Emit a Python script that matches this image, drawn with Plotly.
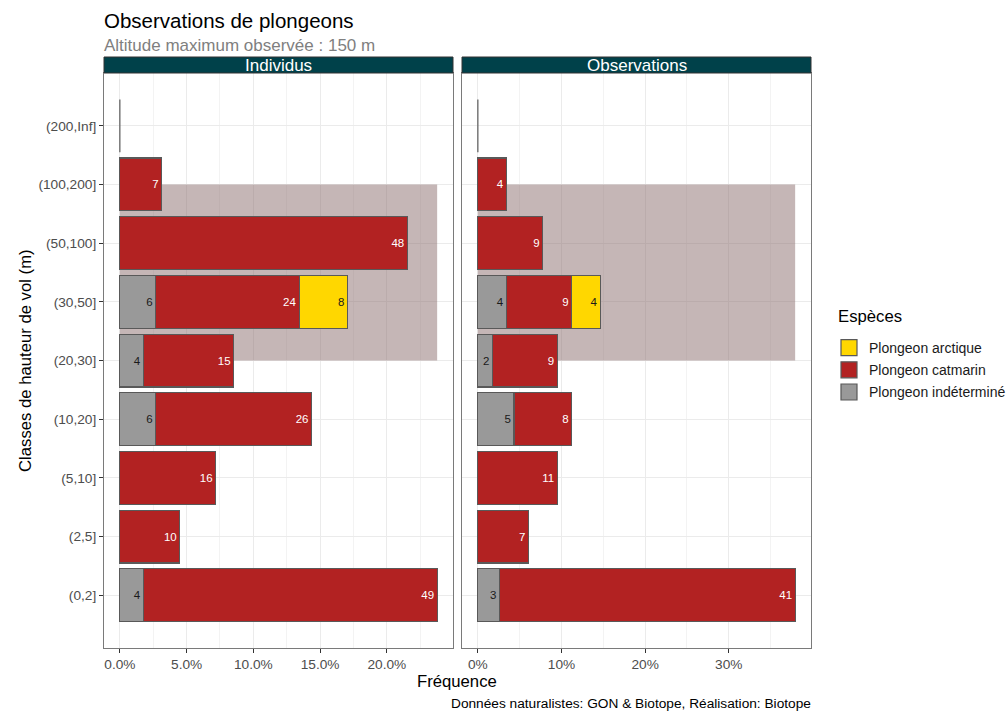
import plotly.graph_objects as go

# ---------------- data ----------------
categories = ["(0,2]", "(2,5]", "(5,10]", "(10,20]", "(20,30]", "(30,50]", "(50,100]", "(100,200]", "(200,Inf]"]
species = ["Plongeon indéterminé", "Plongeon catmarin", "Plongeon arctique"]
species_colors = ["#999999", "#B22222", "#FFD700"]
label_colors = ["#1a1a1a", "#ffffff", "#1a1a1a"]

ind_indet = [4, 0, 0, 6, 4, 6, 0, 0, 0]
ind_catmarin = [49, 10, 16, 26, 15, 24, 48, 7, 0]
ind_arctique = [0, 0, 0, 0, 0, 8, 0, 0, 0]

obs_indet = [3, 0, 0, 5, 2, 4, 0, 0, 0]
obs_catmarin = [41, 7, 11, 8, 9, 9, 9, 4, 0]
obs_arctique = [0, 0, 0, 0, 0, 4, 0, 0, 0]

panel_names = ["Individus", "Observations"]
panel_data = [[ind_indet, ind_catmarin, ind_arctique], [obs_indet, obs_catmarin, obs_arctique]]
zone_classes = ["(20,30]", "(100,200]"]  # shaded altitude zone

x_ticks_ind = [0, 5, 10, 15, 20]
x_ticklabels_ind = ["0.0%", "5.0%", "10.0%", "15.0%", "20.0%"]
x_ticks_obs = [0, 10, 20, 30]
x_ticklabels_obs = ["0%", "10%", "20%", "30%"]

# ---------------- layout geometry ----------------
W, H = 1008, 711
FONT = "Liberation Sans, Arial, Helvetica, sans-serif"
panels_px = [(104, 453), (462, 811)]
top_px, bot_px = 73, 648
strip_top = 57

fig = go.Figure()
shapes = []
annotations = []

for p, (name, series) in enumerate(zip(panel_names, panel_data)):
    xa = "x" if p == 0 else "x2"
    ya = "y" if p == 0 else "y2"
    total = sum(sum(s) for s in series)
    totals_cat = [sum(s[i] for s in series) for i in range(len(categories))]
    max_pct = max(totals_cat) / total * 100

    # shaded zone
    shapes.append(dict(type="rect", xref=xa, yref=ya, x0=0, x1=max_pct,
                       y0=zone_classes[0], y1=zone_classes[1],
                       fillcolor="rgba(139,109,109,0.5)", line=dict(width=0), layer="between"))

    for k, (sp, vals) in enumerate(zip(species, series)):
        pct = [v / total * 100 if v > 0 else None for v in vals]
        txt = [str(v) if v > 0 else "" for v in vals]
        fig.add_trace(go.Bar(
            y=categories, x=pct, orientation="h", name=sp,
            showlegend=False, xaxis=xa, yaxis=ya, width=0.9,
            marker=dict(color=species_colors[k], line=dict(color="#595959", width=1.2)),
            text=txt, textposition="inside", insidetextanchor="end", textangle=0,
            constraintext="none",
            textfont=dict(family=FONT, size=11.5, color=label_colors[k]),
            hoverinfo="skip",
        ))

    # zero-width bars drawn as outline
    for i, c in enumerate(categories):
        if totals_cat[i] == 0:
            shapes.append(dict(type="line", xref=xa, yref=ya, x0=0, x1=0,
                               y0=i - 0.45, y1=i + 0.45,
                               line=dict(color="#595959", width=1.2), layer="above"))

    # strip
    x0p, x1p = panels_px[p]
    shapes.append(dict(type="rect", xref="paper", yref="paper",
                       x0=x0p / W, x1=x1p / W, y0=1 - top_px / H, y1=1 - strip_top / H,
                       fillcolor="#00414A", line=dict(color="#333333", width=1)))
    annotations.append(dict(text=name, xref="paper", yref="paper",
                            x=(x0p + x1p) / 2 / W, y=1 - (strip_top + top_px) / 2 / H,
                            xanchor="center", yanchor="middle", showarrow=False,
                            font=dict(family=FONT, size=17, color="white")))

# legend entries (top to bottom: arctique, catmarin, indéterminé)
for k in [2, 1, 0]:
    sp = species[k]
    fig.add_trace(go.Scatter(x=[None], y=[None], mode="markers", name=sp, legendgroup=sp,
                             marker=dict(symbol="square", size=16, color=species_colors[k],
                                         line=dict(color="#595959", width=1.2)),
                             xaxis="x", yaxis="y", hoverinfo="skip"))

TICKFONT = dict(family=FONT, size=13.7, color="#4D4D4D")
axis_common = dict(showline=True, linecolor="#7a7a7a", linewidth=1, mirror=True,
                   zeroline=False, tickfont=TICKFONT)

def xaxis_cfg(domain, ticks, labels, minor_dt, rng, anchor):
    return dict(domain=domain, range=rng, tickvals=ticks, ticktext=labels, anchor=anchor,
                showgrid=True, gridcolor="#EBEBEB", gridwidth=1,
                minor=dict(dtick=minor_dt, tick0=0, showgrid=True, gridcolor="#F3F3F3", gridwidth=0.8, ticks=""),
                ticks="outside", ticklen=4, tickcolor="#333333", **axis_common)

tot_ind = sum(sum(s) for s in panel_data[0])
tot_obs = sum(sum(s) for s in panel_data[1])
max_ind = max(sum(s[i] for s in panel_data[0]) for i in range(len(categories))) / tot_ind * 100
max_obs = max(sum(s[i] for s in panel_data[1]) for i in range(len(categories))) / tot_obs * 100

ydom = [1 - bot_px / H, 1 - top_px / H]
yrng = [-0.9, len(categories) - 1 + 0.9]

fig.update_layout(
    width=W, height=H, barmode="stack",
    plot_bgcolor="white", paper_bgcolor="white",
    margin=dict(l=0, r=0, t=0, b=0, autoexpand=False),
    font=dict(family=FONT, color="#1a1a1a"),
    xaxis=xaxis_cfg([panels_px[0][0] / W, panels_px[0][1] / W], x_ticks_ind, x_ticklabels_ind, 2.5,
                    [-0.05 * max_ind, 1.05 * max_ind], "y"),
    xaxis2=xaxis_cfg([panels_px[1][0] / W, panels_px[1][1] / W], x_ticks_obs, x_ticklabels_obs, 5,
                     [-0.05 * max_obs, 1.05 * max_obs], "y2"),
    yaxis=dict(domain=ydom, type="category", categoryorder="array", categoryarray=categories,
               range=yrng, anchor="x", showgrid=True, gridcolor="#EBEBEB", gridwidth=1,
               ticks="outside", ticklen=4, tickcolor="#333333", **axis_common),
    yaxis2=dict(domain=ydom, type="category", categoryorder="array", categoryarray=categories,
                range=yrng, anchor="x2", showgrid=True, gridcolor="#EBEBEB", gridwidth=1,
                showticklabels=False, ticks="", **axis_common),
    legend=dict(x=829 / W, y=1 - 332 / H, xanchor="left", yanchor="top",
                traceorder="grouped", tracegroupgap=1, bgcolor="rgba(0,0,0,0)",
                font=dict(family=FONT, size=14, color="#1a1a1a"), itemsizing="trace"),
    shapes=shapes,
)

annotations += [
    dict(text="Espèces", xref="paper", yref="paper", x=836 / W, y=1 - 316 / H,
         xanchor="left", yanchor="middle", showarrow=False,
         font=dict(family=FONT, size=16.7, color="#000000")),
    dict(text="Observations de plongeons", xref="paper", yref="paper", x=102 / W, y=1 - 20 / H,
         xanchor="left", yanchor="middle", showarrow=False,
         font=dict(family=FONT, size=20.5, color="#000000")),
    dict(text="Altitude maximum observée : 150 m", xref="paper", yref="paper", x=102 / W, y=1 - 46 / H,
         xanchor="left", yanchor="middle", showarrow=False,
         font=dict(family=FONT, size=17, color="#808080")),
    dict(text="Classes de hauteur de vol (m)", xref="paper", yref="paper", x=25 / W, y=1 - 361 / H,
         xanchor="center", yanchor="middle", textangle=-90, showarrow=False,
         font=dict(family=FONT, size=16.7, color="#000000")),
    dict(text="Fréquence", xref="paper", yref="paper", x=457 / W, y=1 - 681 / H,
         xanchor="center", yanchor="middle", showarrow=False,
         font=dict(family=FONT, size=16.7, color="#000000")),
    dict(text="Données naturalistes: GON & Biotope, Réalisation: Biotope", xref="paper", yref="paper",
         x=813 / W, y=1 - 703 / H, xanchor="right", yanchor="middle", showarrow=False,
         font=dict(family=FONT, size=13.7, color="#000000")),
]
fig.update_layout(annotations=annotations)

fig.write_html("out.html", config={"displayModeBar": False},
               post_script="document.body.style.margin='0';document.body.style.padding='0';")
